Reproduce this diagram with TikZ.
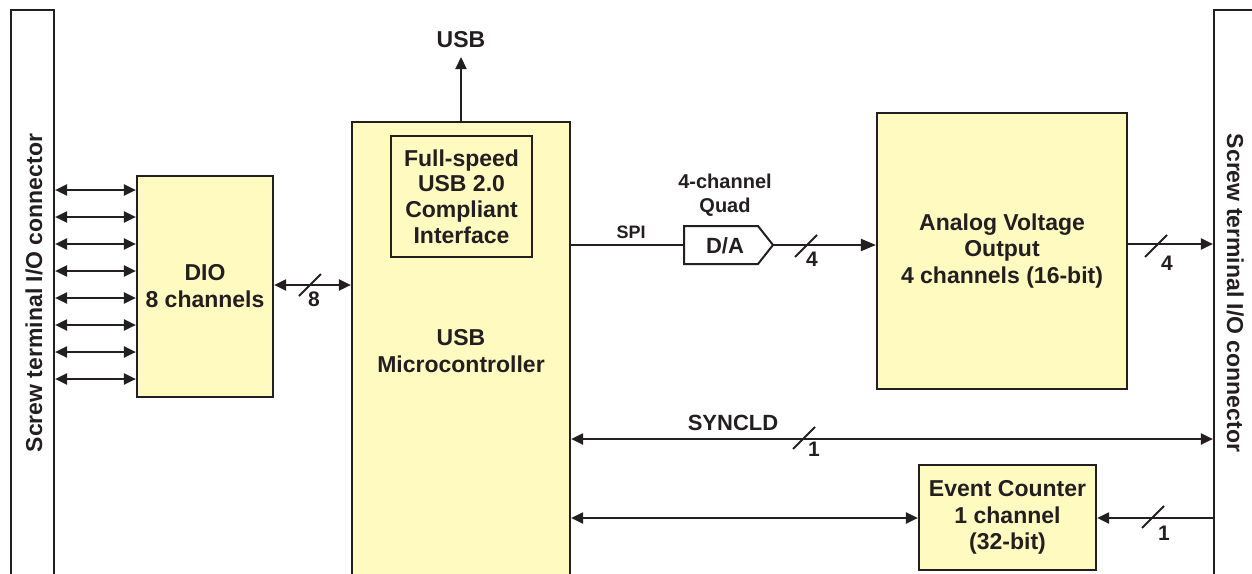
\documentclass[tikz,border=0pt]{standalone}
\usepackage{fontspec}
\setmainfont{Liberation Sans}
\usetikzlibrary{arrows.meta}
\newcommand\fsz[2]{\fontsize{#1}{#2}\selectfont\bfseries}
\definecolor{boxfill}{RGB}{255,250,192}
\definecolor{ink}{RGB}{35,31,32}
\begin{document}
\begin{tikzpicture}[x=1pt,y=-1pt,
  blk/.style={draw=ink,line width=2.2pt,fill=boxfill,inner sep=0pt,align=center,text=ink},
  conn/.style={draw=ink,line width=2.2pt,fill=white,inner sep=0pt},
  ln/.style={draw=ink,line width=2.1pt},
  tip/.style={-{Triangle[length=12pt,width=11pt]}},
  dbl/.style={{Triangle[length=12pt,width=11pt]}-{Triangle[length=12pt,width=11pt]}},
  slashln/.style={draw=ink,line width=1.9pt},
  lbl/.style={inner sep=0pt,text=ink,align=center},
  num/.style={lbl,font=\fsz{21}{24}}]
\clip (0,0) rectangle (1252,573);
\useasboundingbox (0,0) rectangle (1252,573);

% connectors
\node[conn,minimum width=43pt,minimum height=566pt] (lconn) at (32.5,293) {};
\node[conn,minimum width=48pt,minimum height=566pt] (rconn) at (1238,293) {};
\node[lbl,rotate=90,anchor=base,font=\fsz{23}{26}] (llab) at (42,293) {Screw terminal I/O connector};
\node[lbl,rotate=-90,anchor=base,font=\fsz{23}{26}] (rlab) at (1227,293) {Screw terminal I/O connector};

% blocks
\node[blk,minimum width=136pt,minimum height=221pt,font=\fsz{23}{27}] (dio) at (205,286.5) {DIO\\8 channels};
\node[blk,minimum width=218pt,minimum height=458pt,font=\fsz{23}{27}] (micro) at (461,351) {USB\\Microcontroller};
\node[blk,minimum width=141pt,minimum height=121pt,font=\fsz{23}{25.7}] (usbif) at (461.5,196.5) {Full-speed\\USB 2.0\\Compliant\\Interface};
\node[blk,minimum width=250pt,minimum height=276pt,font=\fsz{23}{26.5}] (avo) at (1002,251) {Analog Voltage\\Output\\4 channels (16-bit)};
\node[blk,minimum width=177pt,minimum height=105pt,font=\fsz{23}{26.5}] (evc) at (1007.5,517.5) {Event Counter\\1 channel\\(32-bit)};

% D/A converter
\draw[draw=ink,line width=2pt,fill=white] (684,226) -- (758,226) -- (773,245) -- (758,264) -- (684,264) -- cycle;
\coordinate (dain) at (684,245);
\coordinate (daout) at (773,245);
\node[lbl,font=\fsz{22}{24}] (datext) at (725,246) {D/A};
\node[lbl,font=\fsz{20}{24}] (quad) at (725,195) {4-channel\\Quad};

% USB out
\node[lbl,font=\fsz{23}{26}] (usb) at (461,40) {USB};
\coordinate (usbtip) at (461,57);
\draw[ln,tip] (micro.north) -- (usbtip);

% DIO lines
\foreach \i in {0,...,7}{
  \pgfmathsetmacro\yy{190+27*\i}
  \coordinate (r\i) at (0,\yy);
  \draw[ln,dbl] (lconn.east |- r\i) -- (dio.west |- r\i);
}
\coordinate (busy) at (0,285);
\draw[ln,dbl] (dio.east |- busy) -- (micro.west |- busy);
\coordinate (s8) at (310,285);
\draw[slashln] (s8) +(-11,11) -- +(11,-11);
\node[num] (n8) at (314,299) {8};

% SPI
\draw[ln] (micro.east |- dain) -- (dain);
\node[lbl,font=\fsz{18}{20}] (spi) at (631,232) {SPI};
\draw[ln,-{Triangle[length=15pt,width=12pt]}] (daout) -- (avo.west |- daout);
\coordinate (s4a) at (806,246);
\draw[slashln] (s4a) +(-11,11) -- +(11,-11);
\node[num] (n4a) at (812,259) {4};

% AVO out
\coordinate (avoy) at (0,244);
\draw[ln,tip] (avo.east |- avoy) -- (rconn.west |- avoy);
\coordinate (s4b) at (1156,246);
\draw[slashln] (s4b) +(-11,11) -- +(11,-11);
\node[num] (n4b) at (1167,263) {4};

% SYNCLD
\coordinate (syy) at (0,439);
\draw[ln,dbl] (micro.east |- syy) -- (rconn.west |- syy);
\node[lbl,font=\fsz{22}{24}] (sync) at (733,423) {SYNCLD};
\coordinate (s1a) at (804,438);
\draw[slashln] (s1a) +(-11,11) -- +(11,-11);
\node[num] (n1a) at (814,449) {1};

% Event counter
\coordinate (evy) at (0,518);
\draw[ln,dbl] (micro.east |- evy) -- (evc.west |- evy);
\draw[ln,tip] (rconn.west |- evy) -- (evc.east |- evy);
\coordinate (s1b) at (1153,517);
\draw[slashln] (s1b) +(-11,11) -- +(11,-11);
\node[num] (n1b) at (1164,533) {1};
\end{tikzpicture}
\end{document}
